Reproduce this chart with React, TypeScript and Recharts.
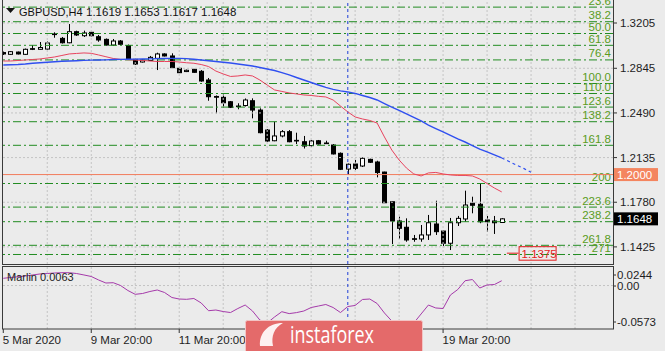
import React from 'react';
import { ComposedChart, Bar, Line, XAxis, YAxis, ReferenceLine } from 'recharts';

const FONT = '"Liberation Sans", Arial, sans-serif';
const BG = '#ebebeb';

// ---- H4 candles (bar 0 = 5 Mar 20:00) ----
const opens = [
  1.2970, 1.2956, 1.2974, 1.2956, 1.3001, 1.2996, 1.2998, 1.3118, 1.3083, 1.3048,
  1.3136, 1.3104, 1.3131, 1.3096, 1.3075, 1.3030, 1.3062, 1.3026, 1.2916, 1.2895,
  1.2907, 1.2924, 1.2959, 1.2943, 1.2845, 1.2819, 1.2837, 1.2821, 1.2752, 1.2621,
  1.2614, 1.2579, 1.2545, 1.2549, 1.2587, 1.2513, 1.2354, 1.2269, 1.2307, 1.2341,
  1.2272, 1.2261, 1.2230, 1.2269, 1.2251, 1.2235, 1.2169, 1.2044, 1.2084, 1.2068,
  1.2121, 1.2100, 1.2020, 1.1784, 1.1631, 1.1581, 1.1490, 1.1488, 1.1520, 1.1607,
  1.1551, 1.1454, 1.1617, 1.1647, 1.1772, 1.1764, 1.1639, 1.1631, 1.1619,
];
const highs = [
  1.2978, 1.2982, 1.2978, 1.3002, 1.3030, 1.3054, 1.3058, 1.3131, 1.3094, 1.3197,
  1.3144, 1.3144, 1.3136, 1.3110, 1.3082, 1.3078, 1.3070, 1.3034, 1.2923, 1.2919,
  1.2943, 1.2969, 1.2964, 1.2964, 1.2851, 1.2835, 1.2839, 1.2831, 1.2768, 1.2629,
  1.2641, 1.2585, 1.2567, 1.2605, 1.2606, 1.2527, 1.2362, 1.2420, 1.2354, 1.2354,
  1.2333, 1.2307, 1.2275, 1.2275, 1.2269, 1.2243, 1.2176, 1.2088, 1.2116, 1.2136,
  1.2126, 1.2110, 1.2023, 1.1790, 1.1665, 1.1652, 1.1520, 1.1599, 1.1679, 1.1792,
  1.1559, 1.1655, 1.1671, 1.1872, 1.1824, 1.1931, 1.1671, 1.1671, 1.1653,
];
const lows = [
  1.2951, 1.2951, 1.2955, 1.2951, 1.2990, 1.2994, 1.2994, 1.3088, 1.3042, 1.3044,
  1.3102, 1.3094, 1.3099, 1.3056, 1.3026, 1.3022, 1.3030, 1.2911, 1.2871, 1.2891,
  1.2903, 1.2831, 1.2939, 1.2847, 1.2808, 1.2815, 1.2810, 1.2738, 1.2587, 1.2487,
  1.2532, 1.2529, 1.2519, 1.2541, 1.2447, 1.2328, 1.2261, 1.2265, 1.2296, 1.2257,
  1.2243, 1.2207, 1.2219, 1.2239, 1.2243, 1.2160, 1.2036, 1.1997, 1.2036, 1.2060,
  1.2092, 1.1978, 1.1774, 1.1448, 1.1488, 1.1466, 1.1466, 1.1466, 1.1480, 1.1520,
  1.1432, 1.1400, 1.1591, 1.1625, 1.1692, 1.1613, 1.1546, 1.1528, 1.1617,
];
const closes = [
  1.2959, 1.2977, 1.2959, 1.2996, 1.2996, 1.3010, 1.3046, 1.3113, 1.3048, 1.3136,
  1.3110, 1.3126, 1.3104, 1.3070, 1.3030, 1.3062, 1.3036, 1.2919, 1.2879, 1.2911,
  1.2932, 1.2959, 1.2943, 1.2850, 1.2810, 1.2829, 1.2813, 1.2744, 1.2619, 1.2615,
  1.2571, 1.2535, 1.2543, 1.2593, 1.2513, 1.2333, 1.2267, 1.2307, 1.2341, 1.2261,
  1.2267, 1.2227, 1.2267, 1.2243, 1.2246, 1.2164, 1.2042, 1.2082, 1.2050, 1.2129,
  1.2098, 1.2016, 1.1776, 1.1631, 1.1573, 1.1480, 1.1485, 1.1520, 1.1617, 1.1546,
  1.1454, 1.1617, 1.1652, 1.1758, 1.1756, 1.1625, 1.1625, 1.1617, 1.1648,
];

// ---- moving averages ----
const maFast = [
  1.2903, 1.2903, 1.2907, 1.2911, 1.2915, 1.2919, 1.2927, 1.2935, 1.2947, 1.2959,
  1.2963, 1.2967, 1.2964, 1.2951, 1.2937, 1.2923, 1.2916, 1.2913, 1.2911, 1.2907,
  1.2903, 1.2899, 1.2899, 1.2899, 1.2895, 1.2889, 1.2885, 1.2875, 1.2859, 1.2823,
  1.2800, 1.2780, 1.2784, 1.2792, 1.2784, 1.2752, 1.2712, 1.2673, 1.2661, 1.2649,
  1.2641, 1.2633, 1.2629, 1.2622, 1.2617, 1.2593, 1.2545, 1.2498, 1.2458, 1.2442,
  1.2430, 1.2410, 1.2299, 1.2195, 1.2116, 1.2052, 1.2005, 1.1989, 1.2013, 1.2017,
  1.2005, 1.1997, 1.1993, 1.1993, 1.1989, 1.1965, 1.1929, 1.1893, 1.1862,
];
const maSlow = [
  1.2871, 1.2873, 1.2875, 1.2879, 1.2885, 1.2889, 1.2893, 1.2897, 1.2901, 1.2903,
  1.2905, 1.2908, 1.2910, 1.2911, 1.2912, 1.2915, 1.2916, 1.2917, 1.2918, 1.2919,
  1.2920, 1.2922, 1.2923, 1.2924, 1.2924, 1.2922, 1.2917, 1.2911, 1.2905, 1.2899,
  1.2893, 1.2887, 1.2879, 1.2871, 1.2863, 1.2851, 1.2839, 1.2827, 1.2811, 1.2792,
  1.2772, 1.2752, 1.2732, 1.2712, 1.2693, 1.2677, 1.2665, 1.2657, 1.2645, 1.2629,
  1.2613, 1.2593, 1.2565, 1.2537, 1.2510, 1.2482, 1.2454, 1.2426, 1.2394, 1.2366,
  1.2339, 1.2311, 1.2283, 1.2259, 1.2231, 1.2203, 1.2180, 1.2156, 1.2132,
];
const maSlowShiftStart = 68;
const maSlowShifted = [1.2132, 1.2104, 1.2076, 1.2049, 1.2018];

// ---- Marlin oscillator ----
const marlin = [
  0.0095, 0.0106, 0.0115, 0.0125, 0.0139, 0.0152, 0.0158, 0.0165, 0.0169, 0.0169,
  0.0158, 0.0139, 0.0119, 0.0073, 0.0033, 0.0037, 0.0000, -0.0066, -0.0116, -0.0105,
  -0.0079, -0.0059, -0.0092, -0.0158, -0.0178, -0.0182, -0.0171, -0.0230, -0.0332, -0.0323,
  -0.0343, -0.0356, -0.0303, -0.0257, -0.0336, -0.0455, -0.0494, -0.0415, -0.0345, -0.0370,
  -0.0357, -0.0336, -0.0290, -0.0270, -0.0250, -0.0290, -0.0356, -0.0277, -0.0263, -0.0184,
  -0.0178, -0.0237, -0.0362, -0.0468, -0.0560, -0.0573, -0.0494, -0.0375, -0.0257, -0.0296,
  -0.0303, -0.0125, -0.0053, 0.0063, 0.0079, -0.0033, 0.0007, 0.0013, 0.0063,
];

// ---- axes / levels ----
const timeTickIndex = [0, 12, 24, 36, 48, 60];
// labels at bars 36 and 48 sit under the logo and are not visible in the picture
const timeTickLabels = ['5 Mar 2020', '9 Mar 20:00', '11 Mar 20:00', '', '', '19 Mar 20:00'];
const gridIndex = [6, 12, 18, 24, 30, 36, 42, 48, 54, 60, 66, 72, 78];
const priceTicks = [1.3205, 1.2845, 1.249, 1.2135, 1.178, 1.1425];
const marlinTicks = [0.0244, 0, -0.0573];
const marlinTickLabels = ['0.0244', '0.00', '-0.0573'];
const fibLevels = [23.6, 38.2, 50.0, 61.8, 76.4, 100.0, 110.0, 123.6, 138.2, 161.8, 200, 223.6, 238.2, 261.8, 271];
const fibLabels = ['23.6', '38.2', '50.0', '61.8', '76.4', '100.0', '110.0', '123.6', '138.2', '161.8', '200', '223.6', '238.2', '261.8', '271'];
const fibHigh = 1.3519;
const fibLow = 1.2724;
const levelPrice = 1.2;
const lastPrice = 1.1648;
const alertPrice = 1.1375;
const alertFrom = 68.7;
const alertTo = 70.3;
const vLineIndex = 47;
const titleSymbol = 'GBPUSD,H4';
const titleOHLC = '1.1619 1.1653 1.1617 1.1648';
const marlinTitle = 'Marlin 0.0063';

const SLOTS = 73;
const xDomain = [-0.04, 83.18];
const priceDomain = [1.1289, 1.338];
const marlinDomain = [-0.0573, 0.0244];

const data = Array.from({ length: SLOTS }, (_, i) => ({
  i,
  open: opens[i],
  high: highs[i],
  low: lows[i],
  close: closes[i],
  fast: maFast[i],
  slow: maSlow[i],
  slowExt: i >= maSlowShiftStart ? maSlowShifted[i - maSlowShiftStart] : undefined,
  marlin: marlin[i],
}));

const Candle = (p: any) => {
  const { x, y, width, height, payload } = p;
  if (!payload || payload.open == null || !isFinite(y) || !isFinite(height)) return <g />;
  const top = Math.min(y, y + height);
  const bottom = Math.max(y, y + height);
  const span = payload.high - payload.low;
  const toPx = (v: number) => (span > 0 ? top + ((payload.high - v) / span) * (bottom - top) : top);
  const bull = payload.close >= payload.open;
  const bTop = toPx(Math.max(payload.open, payload.close));
  const bBot = toPx(Math.min(payload.open, payload.close));
  const cx = Math.round(x + width / 2) + 0.5;
  const half = Math.floor(width / 2);
  return (
    <g>
      <line x1={cx} x2={cx} y1={top} y2={bottom} stroke="#000" strokeWidth={1} />
      <rect
        x={cx - half}
        y={bTop}
        width={half * 2}
        height={Math.max(bBot - bTop, 0.6)}
        fill={bull ? '#ffffff' : '#000000'}
        stroke="#000"
        strokeWidth={1}
      />
    </g>
  );
};

const FibLabel = (p: any) => {
  const vb = p.viewBox;
  if (!vb) return null;
  return (
    <text x={vb.x + vb.width - 2} y={vb.y - 2.5} textAnchor="end" fill="#5a9c22" fontSize={11.5} fontFamily={FONT}>
      {p.text}
    </text>
  );
};

const AxisBox = (p: any) => {
  const vb = p.viewBox;
  if (!vb) return null;
  const x0 = vb.x + vb.width + 1;
  return (
    <g>
      <rect x={x0} y={vb.y - 6.5} width={44} height={13} fill={p.fill} />
      <text x={x0 + 3} y={vb.y + 4} fill={p.color} fontSize={11.5} fontFamily={FONT}>
        {p.text}
      </text>
    </g>
  );
};

const AlertBox = (p: any) => {
  const vb = p.viewBox;
  if (!vb) return null;
  const x0 = vb.x + vb.width;
  return (
    <g>
      <rect x={x0 + 0.5} y={vb.y - 6.5} width={37} height={13.5} fill="none" stroke="#e41c1c" strokeWidth={1} />
      <text x={x0 + 3} y={vb.y + 4.5} fill="#e41c1c" fontSize={11.5} fontFamily={FONT}>
        {p.text}
      </text>
    </g>
  );
};

const PriceTick = (p: any) => {
  const v = p.payload.value;
  return (
    <g>
      <line x1={p.x + 1} x2={p.x + 4} y1={p.y} y2={p.y} stroke="#333" />
      <text x={p.x + 7} y={p.y + 4} fill="#1e1e1e" fontSize={11.5} fontFamily={FONT}>
        {v.toFixed(4)}
      </text>
    </g>
  );
};

const MarlinTick = (p: any) => {
  const v = p.payload.value;
  const k = marlinTicks.indexOf(v);
  const shift = v > 0 ? 8 : v < 0 ? -7 : 0.5;
  const ty = p.y + shift;
  return (
    <g>
      <line x1={p.x + 1} x2={p.x + 3} y1={ty} y2={ty} stroke="#333" />
      <text x={p.x + 4} y={ty + 4} fill="#1e1e1e" fontSize={11.5} fontFamily={FONT}>
        {marlinTickLabels[k]}
      </text>
    </g>
  );
};

const TimeTick = (p: any) => {
  const k = timeTickIndex.indexOf(p.payload.value);
  const label = timeTickLabels[k];
  if (!label) return <g />;
  return (
    <text x={p.x - 0.5} y={p.y + 8.5} fill="#1e1e1e" fontSize={11.5} fontFamily={FONT} textAnchor="start">
      {label}
    </text>
  );
};

const gridStroke = '#c4c4c4';

export default function App() {
  return (
    <div style={{ position: 'absolute', left: 0, top: 0, width: 665, height: 351, background: BG, overflow: 'hidden' }}>
      <div style={{ position: 'absolute', left: 0, top: 0 }}>
        <ComposedChart width={665} height={265} data={data} margin={{ top: 1, right: 0, bottom: 1, left: 3 }}>
          <XAxis dataKey="i" type="number" domain={xDomain} allowDataOverflow hide ticks={gridIndex} />
          <YAxis
            yAxisId="p"
            orientation="right"
            type="number"
            domain={priceDomain}
            allowDataOverflow
            width={52}
            ticks={priceTicks}
            tickSize={0}
            tickMargin={0}
            axisLine={false}
            tickLine={false}
            tick={<PriceTick />}
            interval={0}
          />
          {priceTicks.map((v) => (
            <ReferenceLine key={'hg' + v} yAxisId="p" y={v} stroke={gridStroke} strokeDasharray="2 2" />
          ))}
          {gridIndex.map((v) => (
            <ReferenceLine key={'vg' + v} yAxisId="p" x={v} stroke={gridStroke} strokeDasharray="2 2" />
          ))}
          {fibLevels.map((lv, k) => (
            <ReferenceLine
              key={'fib' + lv}
              yAxisId="p"
              y={fibHigh + ((fibLow - fibHigh) * lv) / 100}
              stroke="#228c22"
              strokeDasharray="8 3 2 3"
              label={<FibLabel text={fibLabels[k]} />}
            />
          ))}
          <ReferenceLine
            yAxisId="p"
            y={levelPrice}
            stroke="#f27c5c"
            strokeWidth={1}
            label={<AxisBox text={levelPrice.toFixed(4)} fill="#f4855f" color="#ffffff" />}
          />
          <ReferenceLine
            yAxisId="p"
            y={lastPrice}
            stroke="none"
            label={<AxisBox text={lastPrice.toFixed(4)} fill="#000000" color="#ffffff" />}
          />
          <ReferenceLine
            yAxisId="p"
            segment={[
              { x: alertFrom, y: alertPrice },
              { x: alertTo, y: alertPrice },
            ]}
            stroke="#e41c1c"
            label={<AlertBox text={alertPrice.toFixed(4)} />}
          />
          <ReferenceLine yAxisId="p" x={vLineIndex} stroke="#1f3fd8" strokeDasharray="3 3" />
          <Bar
            yAxisId="p"
            dataKey={(d: any) => (d.open == null ? null : [d.low, d.high])}
            barSize={5}
            shape={<Candle />}
            isAnimationActive={false}
          />
          <Line yAxisId="p" type="linear" dataKey="fast" stroke="#e8435e" strokeWidth={1} dot={false} isAnimationActive={false} />
          <Line yAxisId="p" type="linear" dataKey="slow" stroke="#2f4ff0" strokeWidth={1.4} dot={false} isAnimationActive={false} />
          <Line
            yAxisId="p"
            type="linear"
            dataKey="slowExt"
            stroke="#2f4ff0"
            strokeWidth={1.2}
            strokeDasharray="3 3"
            dot={false}
            isAnimationActive={false}
          />
        </ComposedChart>
      </div>
      <div style={{ position: 'absolute', left: 0, top: 266 }}>
        <ComposedChart width={665} height={85} data={data} margin={{ top: 1, right: 0, bottom: 0, left: 3 }}>
          <XAxis
            dataKey="i"
            type="number"
            domain={xDomain}
            allowDataOverflow
            ticks={timeTickIndex}
            interval={0}
            height={22}
            axisLine={false}
            tickSize={4}
            tickMargin={2}
            tickLine={{ stroke: '#333' }}
            tick={<TimeTick />}
          />
          <YAxis
            yAxisId="m"
            orientation="right"
            type="number"
            domain={marlinDomain}
            allowDataOverflow
            width={52}
            ticks={marlinTicks}
            interval={0}
            tickSize={0}
            tickMargin={0}
            axisLine={false}
            tickLine={false}
            tick={<MarlinTick />}
          />
          {gridIndex.map((v) => (
            <ReferenceLine key={'mvg' + v} yAxisId="m" x={v} stroke={gridStroke} strokeDasharray="2 2" />
          ))}
          <ReferenceLine yAxisId="m" y={0} stroke={gridStroke} strokeDasharray="2 2" />
          <ReferenceLine yAxisId="m" x={vLineIndex} stroke="#1f3fd8" strokeDasharray="3 3" />
          <Line yAxisId="m" type="linear" dataKey="marlin" stroke="#a53aaa" strokeWidth={1} dot={false} isAnimationActive={false} />
        </ComposedChart>
      </div>
      <svg width={665} height={351} style={{ position: 'absolute', left: 0, top: 0, pointerEvents: 'none' }}>
        <rect x={2.5} y={-1} width={611} height={265.5} fill="none" stroke="#3a3a3a" />
        <rect x={2.5} y={266.5} width={611} height={62.5} fill="none" stroke="#3a3a3a" />
        <polygon points="6,8 15,8 10.5,13" fill="#111" />
        <text x={19} y={16} fontSize={11} fontFamily={FONT} fill="#111">
          {titleSymbol}
        </text>
        <text x={86} y={16} fontSize={11.5} fontFamily={FONT} fill="#111">
          {titleOHLC}
        </text>
        <text x={7} y={281} fontSize={11} fontFamily={FONT} fill="#222">
          {marlinTitle}
        </text>
        <g>
          <rect x={245.5} y={320.5} width={177} height={34} rx={2} fill="#e46a6a" stroke="#f2c4c4" />
          <path d="M260 346 C 259 333, 268 323, 283 323 C 274 328, 271 336, 273 346 Z" fill="#ffffff" opacity={0.9} />
          <text
            x={290}
            y={343}
            fontSize={23}
            fontFamily='"Liberation Sans Narrow", "Open Sans", sans-serif'
            fill="#ffffff"
            textLength={84}
            lengthAdjust="spacingAndGlyphs"
          >
            instaforex
          </text>
        </g>
      </svg>
    </div>
  );
}
